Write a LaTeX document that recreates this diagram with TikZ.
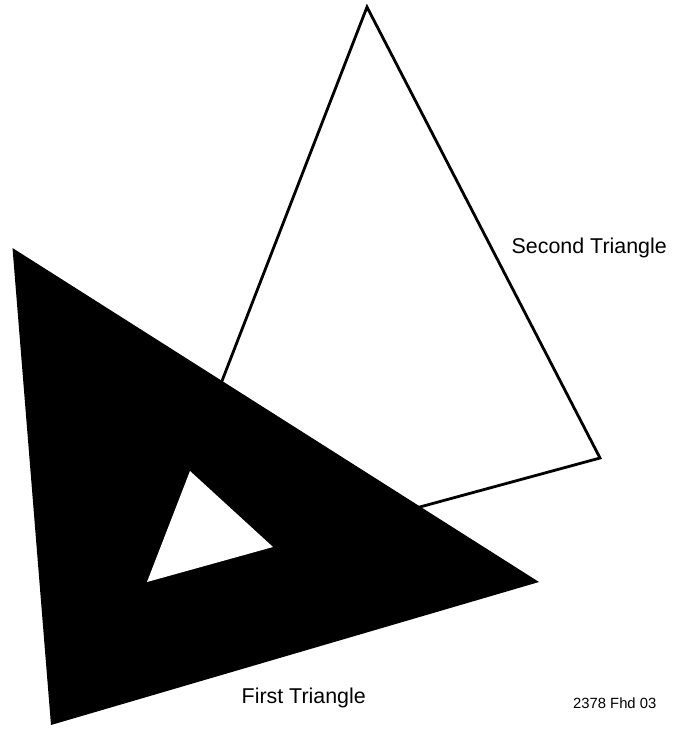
\documentclass[tikz,border=0pt]{standalone}
\usepackage{fontspec}
\setmainfont{Liberation Sans}
\begin{document}
\begin{tikzpicture}[x=1pt,y=-1pt,
  outline/.style={draw=black,line width=2.8pt,line join=miter},
  solid/.style={fill=black},
  hole/.style={fill=white},
  lbl/.style={anchor=base west,inner sep=0pt,font=\fontsize{21.4}{24}\selectfont},
  code/.style={anchor=base west,inner sep=0pt,font=\fontsize{14.8}{17}\selectfont}]
\useasboundingbox (0,0) rectangle (673,729);
% second triangle (outline)
\draw[outline] (367,7) -- (600,458) -- (144,582) -- cycle;
% first triangle (solid, with a hole)
\fill[solid] (12.5,248) -- (539,582) -- (51,725) -- cycle;
\fill[hole] (190,471) -- (273,547) -- (147,582) -- cycle;
% labels
\node[lbl] (second) at (511.5,253) {Second Triangle};
\node[lbl] (first) at (241.5,703) {First Triangle};
\node[code] (code) at (573,708) {2378 Fhd 03};
\end{tikzpicture}
\end{document}
